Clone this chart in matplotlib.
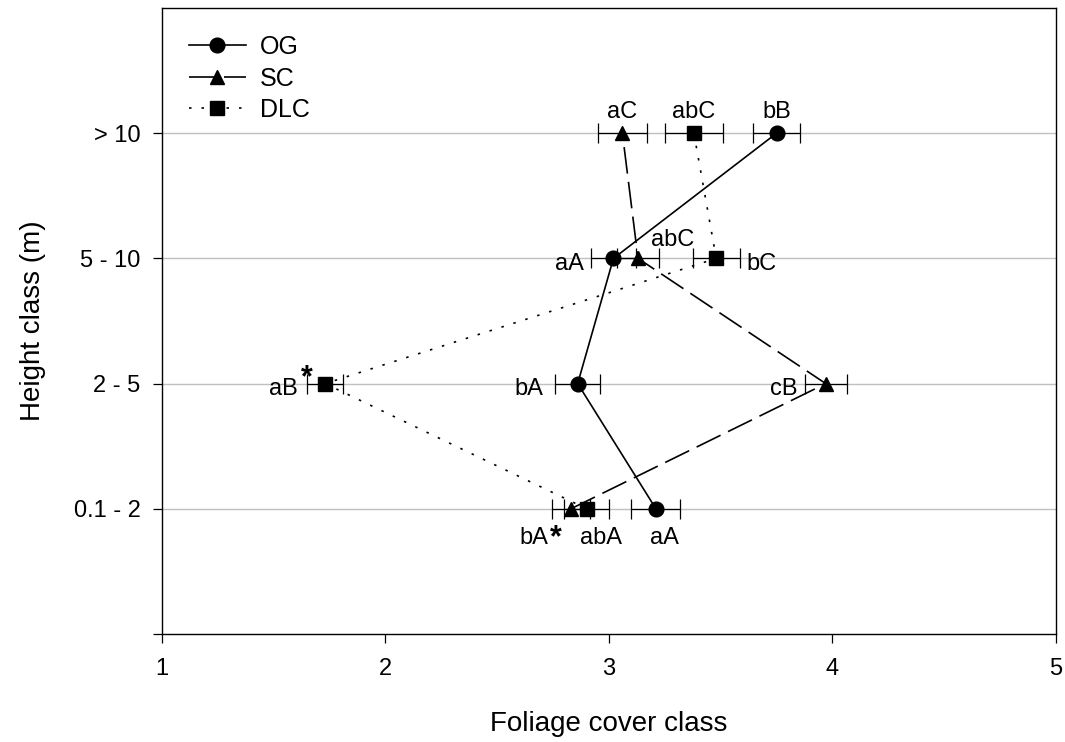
import matplotlib
matplotlib.use('Agg')
import matplotlib.pyplot as plt

plt.rcParams['font.family'] = ['Liberation Sans', 'DejaVu Sans']

# height classes (y positions 1..4)
height_labels = ['0.1 - 2', '2 - 5', '5 - 10', '> 10']
height_pos = [1, 2, 3, 4]

# foliage cover class means and errors per stand type
og_mean = [3.21, 2.86, 3.02, 3.75]
og_err = [0.11, 0.10, 0.10, 0.105]
sc_mean = [2.83, 3.97, 3.13, 3.06]
sc_err = [0.085, 0.095, 0.095, 0.11]
dlc_mean = [2.90, 1.73, 3.48, 3.38]
dlc_err = [0.10, 0.08, 0.105, 0.13]

og_letters = ['aA', 'bA', 'aA', 'bB']
sc_letters = ['bA', 'cB', 'abC', 'aC']
dlc_letters = ['abA', 'aB', 'bC', 'abC']

fig = plt.figure(figsize=(10.65, 7.42), dpi=100)
ax = fig.add_axes([0.1521, 0.1456, 0.8394, 0.8436])

ax.set_xlim(1, 5)
ax.set_ylim(0, 5)
for y in height_pos:
    ax.axhline(y, color='#c0c0c0', lw=1.0, zorder=0)

series = [
    ('OG', og_mean, og_err, 'o', 10.6, '-'),
    ('SC', sc_mean, sc_err, '^', 10.6, (0, (16, 5))),
    ('DLC', dlc_mean, dlc_err, 's', 9.9, (0, (1.5, 6))),
]
for name, m, e, mk, ms, ls in series:
    ax.errorbar(m, height_pos, xerr=e, fmt='none', ecolor='black',
                elinewidth=0.9, capsize=7, capthick=0.9, zorder=2)
    ax.plot(m, height_pos, color='black', lw=1.2, ls=ls, marker=mk,
            markersize=ms, label=name, zorder=3)

# letter labels: offsets (points) per point, bottom class first
label_sets = [
    (og_mean, og_letters, [(6, -13, 'center', 'top'), (-25, -4, 'right', 'center'),
                           (-21.5, -4, 'right', 'center'), (0, 11, 'center', 'baseline')]),
    (sc_mean, sc_letters, [(-27, -13, 'center', 'top'), (-20, -4, 'right', 'center'),
                           (25, 9, 'center', 'baseline'), (0, 11, 'center', 'baseline')]),
    (dlc_mean, dlc_letters, [(10, -13, 'center', 'top'), (-20, -4, 'right', 'center'),
                             (22, -4, 'left', 'center'), (0, 11, 'center', 'baseline')]),
]
for m, letters, offs in label_sets:
    for x, y, lab, (dx, dy, ha, va) in zip(m, height_pos, letters, offs):
        ax.annotate(lab, xy=(x, y), xytext=(dx, dy), textcoords='offset points',
                    ha=ha, va=va, fontsize=17)

# asterisks for significant differences
ax.annotate('*', xy=(dlc_mean[1], 2), xytext=(-13, 4), textcoords='offset points',
            ha='center', va='center', fontsize=22, fontweight='bold')
ax.annotate('*', xy=(sc_mean[0], 1), xytext=(-11, -21), textcoords='offset points',
            ha='center', va='center', fontsize=22, fontweight='bold')

ax.set_xticks([1, 2, 3, 4, 5])
ax.set_yticks([0] + height_pos)
ax.set_yticklabels([''] + height_labels)
ax.tick_params(direction='out', length=6.5, width=0.9, labelsize=17)
ax.tick_params(axis='x', pad=11)
ax.tick_params(axis='y', pad=9)
for s in ax.spines.values():
    s.set_linewidth(1.0)

ax.set_xlabel('Foliage cover class', fontsize=20, labelpad=22)
ax.set_ylabel('Height class (m)', fontsize=20, labelpad=20)

ax.legend(loc='upper left', frameon=False, fontsize=18, handlelength=2.28,
          labelspacing=0.3, borderaxespad=0.68, handletextpad=0.56)

fig.savefig('out.png', dpi=100)
